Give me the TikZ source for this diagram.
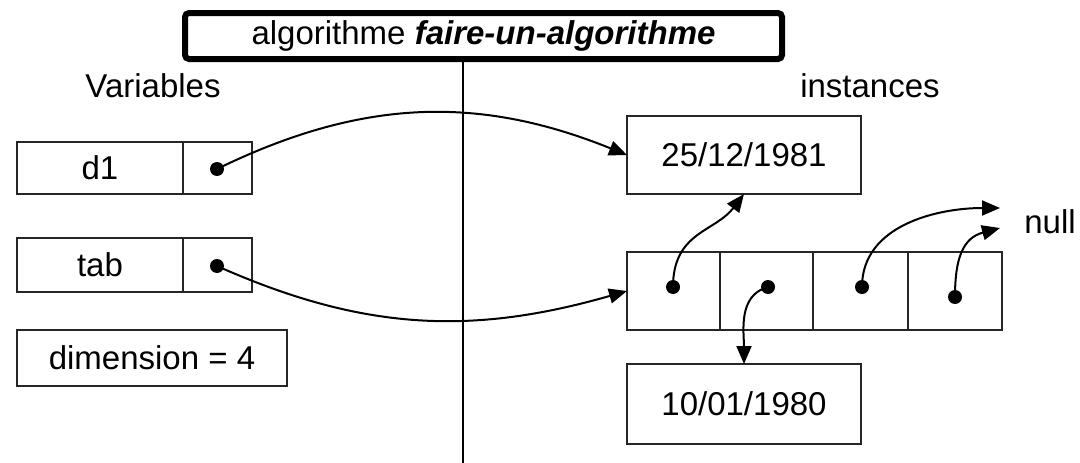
\documentclass[tikz,border=0pt]{standalone}
\usepackage{fontspec}
\setmainfont{Liberation Sans}
\usetikzlibrary{arrows.meta}
\begin{document}
\begin{tikzpicture}[x=1pt,y=1pt,
  box/.style={draw=black!85,line width=2pt,rectangle,inner sep=0pt,outer sep=0pt},
  dot/.style={circle,fill=black,inner sep=0pt,minimum size=14pt,outer sep=0pt},
  arr/.style={line width=2pt,-{Triangle[length=18pt,width=15pt]}},
  lbl/.style={inner sep=0pt,anchor=base},
  every node/.style={font=\fontsize{33}{38}\selectfont}]
\useasboundingbox (0,0) rectangle (1080,-463);
% title
\node[draw=black,line width=6pt,rounded corners=4pt,minimum width=597pt,minimum height=46pt,inner sep=0pt] (title) at (483.5,-36) {};
\node[lbl] (ttext) at (483.5,-45) {algorithme \textbf{\textit{faire-un-algorithme}}};
\coordinate (vtop) at (463,-62);
\coordinate (vbot) at (463,-463);
\draw[line width=2pt] (vtop) -- (vbot);
% headers
\node[lbl] (vars) at (153,-97) {Variables};
\node[lbl] (inst) at (870,-97) {instances};
% variables
\node[box,minimum width=166pt,minimum height=52pt] (d1name) at (100,-168) {d1};
\node[box,minimum width=69pt,minimum height=52pt] (d1ptr) at (217.5,-168) {};
\node[box,minimum width=166pt,minimum height=54pt] (tabname) at (100,-265) {tab};
\node[box,minimum width=69pt,minimum height=54pt] (tabptr) at (217.5,-265) {};
\node[box,minimum width=270pt,minimum height=56pt] (dim) at (152,-358) {dimension = 4};
\node[dot] (p1) at (217,-169) {};
\node[dot] (p2) at (217,-266) {};
% instances
\node[box,minimum width=234pt,minimum height=78pt] (date1) at (744,-155) {25/12/1981};
\node[box,minimum width=234pt,minimum height=80pt] (date2) at (744,-404) {10/01/1980};
\node[box,minimum width=93pt,minimum height=78pt] (c1) at (673.5,-291) {};
\node[box,minimum width=93pt,minimum height=78pt] (c2) at (766.5,-291) {};
\node[box,minimum width=95pt,minimum height=78pt] (c3) at (860.5,-291) {};
\node[box,minimum width=94pt,minimum height=78pt] (c4) at (955,-291) {};
\node[dot] (q1) at (673,-287) {};
\node[dot] (q2) at (768,-287) {};
\node[dot] (q3) at (862,-287) {};
\node[dot] (q4) at (955,-297) {};
\coordinate (n1) at (1000,-208);
\coordinate (n2) at (1000,-228);
\node[lbl] (null) at (1050,-233) {null};
% connectors
\draw[arr] (p1.center) to[out=26,in=158] (date1.west);
\draw[arr] (p2.center) to[out=-24,in=196] (c1.west);
\draw[arr] (q1.center) .. controls (673,-232) and (715,-232) .. (date1.south);
\draw[arr] (q2.center) to[out=195,in=90] (date2.north);
\draw[arr] (q3.center) to[out=90,in=180] (n1);
\draw[arr] (q4.center) to[out=90,in=195,looseness=1.2] (n2);
\end{tikzpicture}
\end{document}
